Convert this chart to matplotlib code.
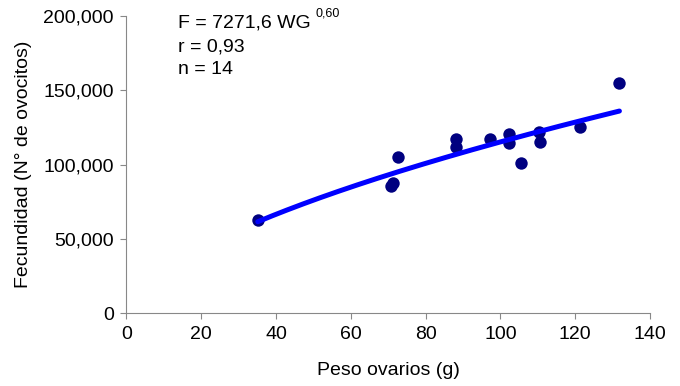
import numpy as np
import matplotlib.pyplot as plt

plt.rcParams['font.family'] = ['Liberation Sans', 'DejaVu Sans']

# Peso ovarios (g) y fecundidad (N° de ovocitos)
peso = [35.1, 70.8, 71.3, 72.5, 88.1, 88.2, 97.3, 102.2, 102.2, 105.6, 110.3, 110.7, 121.3, 131.8]
fecundidad = [62600, 85500, 87700, 105300, 117200, 112000, 117200, 120500, 114700,
              100800, 122100, 115400, 125500, 154700]

# Ajuste potencial F = a * WG^b
a_coef = 7271.6
b_coef = 0.60
x_tick_vals = [0, 20, 40, 60, 80, 100, 120, 140]
y_tick_vals = [0, 50000, 100000, 150000, 200000]

fig = plt.figure(figsize=(6.8, 3.86), dpi=100)
ax = fig.add_axes([0.186, 0.189, 0.770, 0.7695])

ax.scatter(peso, fecundidad, s=80, color='#000080', zorder=2, linewidths=0)
xc = np.linspace(min(peso), max(peso), 200)
ax.plot(xc, a_coef * xc ** b_coef, color='#0000ff', lw=3.6, solid_capstyle='round', zorder=3)

ax.set_xlim(0, 140)
ax.set_ylim(0, 200000)
ax.set_xticks(x_tick_vals)
ax.set_yticks(y_tick_vals)
ax.set_yticklabels([f'{v:,}' for v in y_tick_vals])

for side in ['top', 'right']:
    ax.spines[side].set_visible(False)
for side in ['left', 'bottom']:
    ax.spines[side].set_color('#888888')
    ax.spines[side].set_linewidth(0.8)
ax.tick_params(direction='out', length=4, color='#888888', labelsize=14, pad=5)

ax.set_xlabel('Peso ovarios (g)', fontsize=14, labelpad=14)
ax.set_ylabel('Fecundidad (N° de ovocitos)', fontsize=14, labelpad=8)

fs = 14
fig.text(178 / 680, 1 - 23 / 386, 'F = 7271,6 WG', fontsize=fs, va='center', ha='left')
fig.text(315 / 680, 1 - 8 / 386, '0,60', fontsize=9, va='top', ha='left')
fig.text(178 / 680, 1 - 47 / 386, 'r = 0,93', fontsize=fs, va='center', ha='left')
fig.text(178 / 680, 1 - 70 / 386, 'n = 14', fontsize=fs, va='center', ha='left')

fig.savefig('out.png', dpi=100)
